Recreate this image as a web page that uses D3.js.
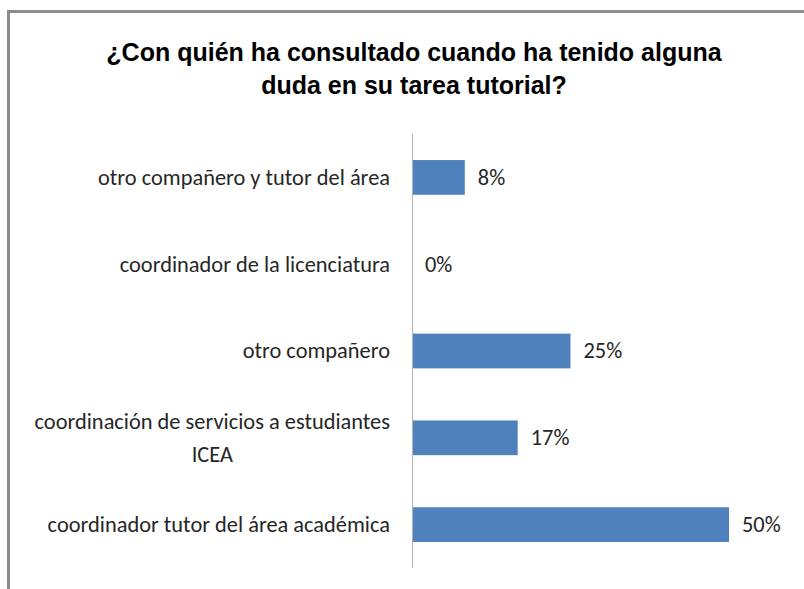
<!DOCTYPE html>
<html>
  <head>
    <title>Consultas tarea tutorial</title>
    <meta charset="UTF-8" />
    <style>
      body { margin: 0; background: #fff; }
      svg { display: block; }
    </style>
  </head>
  <body>
    <script src="https://cdn.jsdelivr.net/npm/d3@7/dist/d3.min.js"></script>
    <script>
      var titleLines = ["¿Con quién ha consultado cuando ha tenido alguna", "duda en su tarea tutorial?"];
      var categories = [
        ["otro compañero y tutor del área"],
        ["coordinador de la licenciatura"],
        ["otro compañero"],
        ["coordinación de servicios a estudiantes", "ICEA"],
        ["coordinador tutor del área académica"]
      ];
      var values = [8.33, 0, 25, 16.67, 50];
      var valueLabels = ["8%", "0%", "25%", "17%", "50%"];

      var width = 804, height = 589;
      var axisX = 412, axisTop = 134, axisBottom = 568;

      var svg = d3.select("body")
                .append("svg")
                .attr("width", width)
                .attr("height", height);

      // chart area frame (only top and left edges are visible)
      svg.append("path")
        .attr("d", "M8.5,589 V11.5 H804")
        .attr("fill", "none")
        .attr("stroke", "#8c8c8c")
        .attr("stroke-width", 3);

      svg.append("g")
        .selectAll("text")
        .data(titleLines)
        .enter()
        .append("text")
        .attr("x", 414)
        .attr("y", function(d, i) { return 61 + i * 33; })
        .attr("text-anchor", "middle")
        .style("font-family", "'Liberation Sans', Arial, sans-serif")
        .style("font-size", "25px")
        .style("font-weight", "bold")
        .style("fill", "#000")
        .text(function(d) { return d; });

      var x = d3.scaleLinear().domain([0, 50]).range([axisX, 729]);
      var y = d3.scaleBand()
                .domain(d3.range(categories.length))
                .range([axisTop, axisBottom])
                .paddingInner(0.6)
                .paddingOuter(0.3);

      svg.append("line")
        .attr("x1", axisX + 0.5).attr("x2", axisX + 0.5)
        .attr("y1", axisTop).attr("y2", axisBottom)
        .attr("stroke", "#b3b3b3")
        .attr("stroke-width", 1);

      svg.append("g")
        .selectAll("rect")
        .data(values)
        .enter()
        .append("rect")
        .attr("x", axisX + 1)
        .attr("y", function(d, i) { return y(i); })
        .attr("width", function(d) { return Math.max(0, x(d) - axisX - 1); })
        .attr("height", y.bandwidth())
        .style("fill", "#4f81bd");

      var labelFont = "Carlito, 'Open Sans', 'Liberation Sans', sans-serif";

      svg.append("g")
        .selectAll("text")
        .data(valueLabels)
        .enter()
        .append("text")
        .attr("x", function(d, i) { return x(values[i]) + 13; })
        .attr("y", function(d, i) { return y(i) + y.bandwidth() / 2; })
        .attr("dy", "0.33em")
        .style("font-family", labelFont)
        .style("font-size", "22.4px")
        .style("fill", "#262626")
        .text(function(d) { return d; });

      var catGroup = svg.append("g");
      categories.forEach(function(lines, i) {
        var cy = y(i) + y.bandwidth() / 2;
        var lh = 33;
        var t = catGroup.append("text")
          .style("font-family", labelFont)
          .style("font-size", "22.4px")
          .style("fill", "#262626");
        lines.forEach(function(line, j) {
          t.append("tspan")
            .attr("x", 0)
            .attr("y", cy + (j - (lines.length - 1) / 2) * lh)
            .attr("dy", "0.33em")
            .attr("text-anchor", "middle")
            .text(line);
        });
        // right align the block against the axis, centre lines within it
        var w = d3.max(t.selectAll("tspan").nodes(), function(n) { return n.getComputedTextLength(); });
        t.selectAll("tspan").attr("x", axisX - 22 - w / 2);
      });
    </script>
  </body>
</html>
